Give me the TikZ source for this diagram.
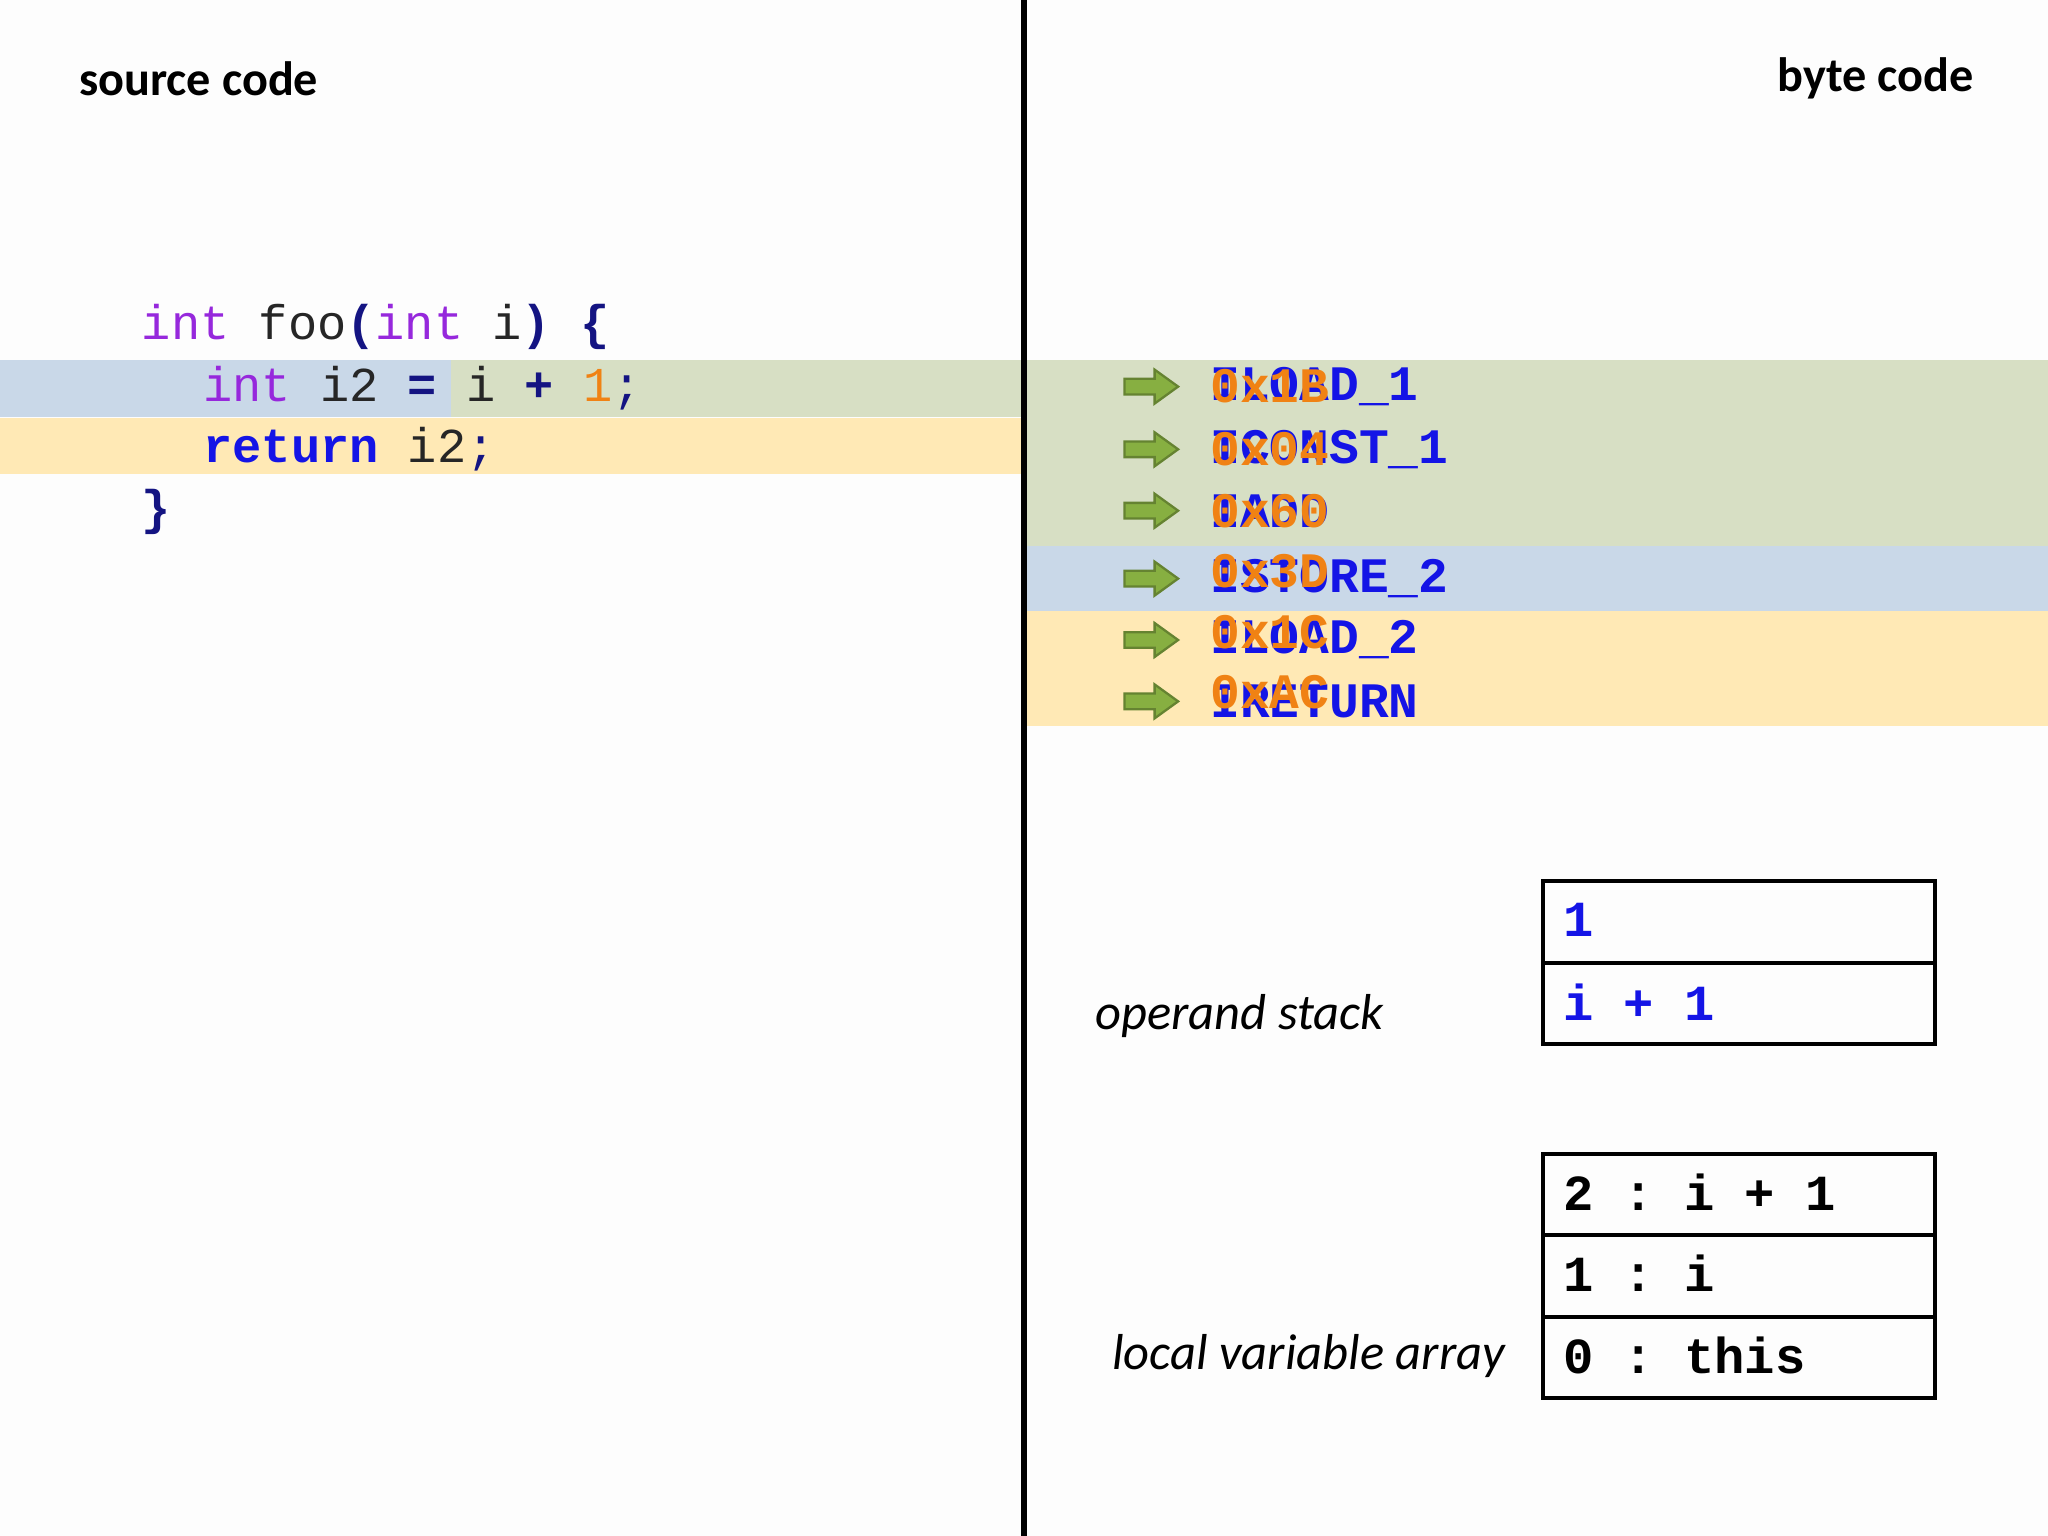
\documentclass[tikz,border=0pt]{standalone}
\usepackage{fontspec}
\setmainfont{Carlito}
\setmonofont{Liberation Mono}
\definecolor{bgw}{RGB}{253,253,253}
\definecolor{bandblue}{RGB}{201,216,232}
\definecolor{bandgreen}{RGB}{215,223,196}
\definecolor{bandyellow}{RGB}{255,233,181}
\definecolor{kw}{RGB}{150,40,220}
\definecolor{navy}{RGB}{20,20,130}
\definecolor{insblue}{RGB}{20,20,230}
\definecolor{hexor}{RGB}{240,130,20}
\definecolor{arrgreen}{RGB}{135,175,65}
\tikzset{
 code/.style={anchor=west,inner sep=0,font=\fontsize{10.6}{12}\selectfont\ttfamily},
 ins/.style={anchor=west,inner sep=0,font=\fontsize{10.8}{12}\selectfont\ttfamily\bfseries,text=insblue},
 hex/.style={anchor=west,inner sep=0,font=\fontsize{10.8}{12}\selectfont\ttfamily\bfseries,text=hexor},
 garr/.style={fill=arrgreen,draw=arrgreen!75!black,line width=0.5pt},
 cell/.style={draw=black,line width=0.9pt,minimum width=3cm,anchor=north west,inner sep=0},
 celltxt/.style={anchor=west,inner sep=0,font=\fontsize{11}{12}\selectfont\ttfamily\bfseries},
 lbl/.style={inner sep=0,font=\fontsize{10.5}{12}\selectfont\bfseries},
 ital/.style={inner sep=0,font=\fontsize{11}{12}\selectfont\itshape}
}
\begin{document}
\begin{tikzpicture}[x=0.01cm,y=-0.01cm]
\fill[bgw] (0,0) rectangle (1568,1176);
\useasboundingbox (0,0) rectangle (1568,1176);
% bands left
\fill[bandblue] (0,276) rectangle (345,319);
\fill[bandgreen] (345,276) rectangle (782,319);
\fill[bandyellow] (0,320) rectangle (782,363);
% bands right
\fill[bandgreen] (786,276) rectangle (1568,418);
\fill[bandblue] (786,418) rectangle (1568,468);
\fill[bandyellow] (786,468) rectangle (1568,556);
\draw[line width=1.3pt] (784,0) -- (784,1176);
\node[lbl,anchor=west] (src) at (60,60) {source code};
\node[lbl,anchor=east] (bc) at (1512,60) {byte code};
% code
\node[code] (c1) at (108,250) {\textcolor{kw}{int} \textcolor{black!85}{foo}\textcolor{navy}{\textbf{(}}\textcolor{kw}{int} \textcolor{black!85}{i}\textcolor{navy}{\textbf{)}} \textcolor{navy}{\textbf{\{}}};
\node[code] (c2) at (155,297) {\textcolor{kw}{int} \textcolor{black!85}{i2} \textcolor{navy}{\textbf{=}} \textcolor{black!85}{i} \textcolor{navy}{\textbf{+}} \textcolor{hexor}{1}\textcolor{navy}{;}};
\node[code] (c3) at (155,344) {\textcolor{insblue}{\textbf{return}} \textcolor{black!85}{i2}\textcolor{navy}{;}};
\node[code] (c4) at (108,392) {\textcolor{navy}{\textbf{\}}}};
% instructions
\foreach \y/\n/\ins/\hx/\hy in {296/a/ILOAD\_1/0x1B/296, 344/b/ICONST\_1/0x04/344, 391/c/IADD/0x60/391, 443/d/ISTORE\_2/0x3D/437, 490/e/ILOAD\_2/0x1C/484, 537/f/IRETURN/0xAC/530}{
 \coordinate (ar\n) at (881,\y);
 \draw[garr,shift={(ar\n)}] (-20,-6) -- (3,-6) -- (3,-13) -- (21,0) -- (3,13) -- (3,6) -- (-20,6) -- cycle;
 \node[ins] (i\n) at (926,\y) {\ins};
 \node[hex] (h\n) at (926,\hy) {\hx};
}
% operand stack
\node[ital,anchor=west] (os) at (838,778) {operand stack};
\node[cell,minimum height=0.63cm] (s1) at (1180,673) {};
\node[cell,minimum height=0.62cm] (s2) at (1180,736) {};
\node[celltxt,text=insblue] at (1196,704) {1};
\node[celltxt,text=insblue] at (1196,767) {i + 1};
% local variables
\node[ital,anchor=east] (lv) at (1153,1038) {local variable array};
\node[cell,minimum height=0.62cm] (l2) at (1180,882) {};
\node[cell,minimum height=0.63cm] (l1) at (1180,944) {};
\node[cell,minimum height=0.62cm] (l0) at (1180,1007) {};
\node[celltxt] at (1196,913) {2 : i + 1};
\node[celltxt] at (1196,975) {1 : i};
\node[celltxt] at (1196,1038) {0 : this};
\end{tikzpicture}
\end{document}
